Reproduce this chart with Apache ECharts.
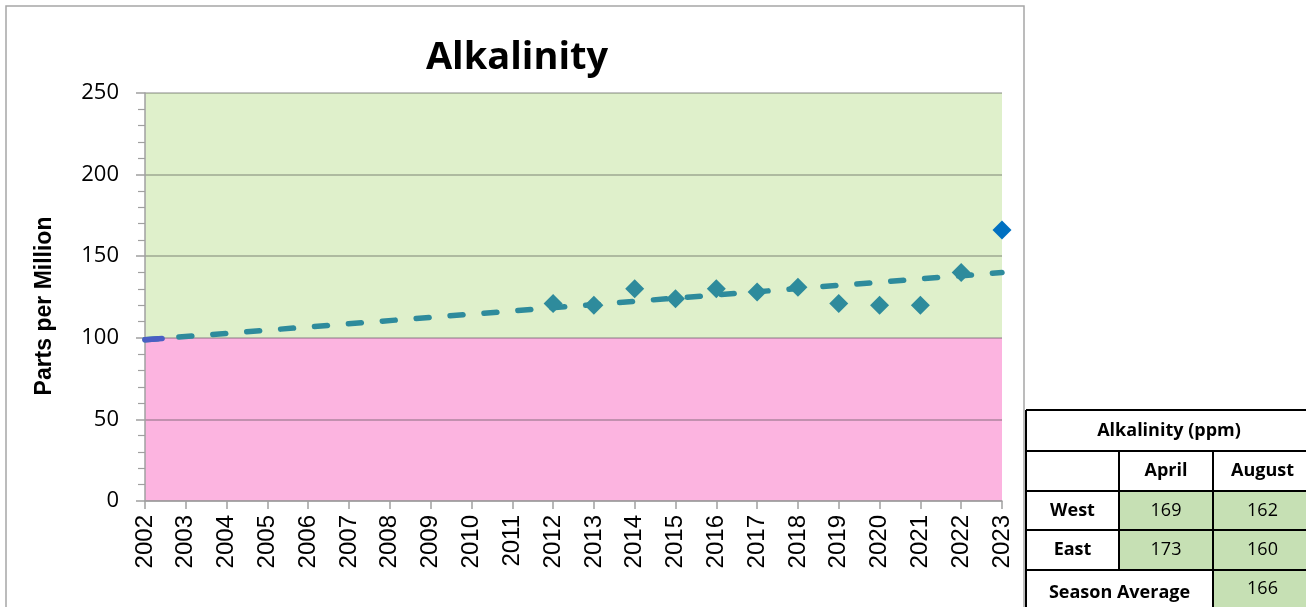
<!DOCTYPE html>
<html>
<head>
<meta charset="utf-8">
<script src="https://cdn.jsdelivr.net/npm/echarts@6/dist/echarts.min.js"></script>
<style>
html,body{margin:0;padding:0;background:#fff;}
#chart{width:1306px;height:607px;}
</style>
</head>
<body>
<div id="chart"></div>
<script>
// ---- data ----
const years = [2012, 2013, 2014, 2015, 2016, 2017, 2018, 2019, 2020, 2021, 2022];
const alkalinity = [121, 120, 130, 124, 130, 128, 131, 121, 120, 120, 140];
const latestYear = [2023];
const latestValue = [166];
const trendYears = [2002, 2023];
const trendValues = [98.8, 140.0];
const blueTrendYears = [2002, 2002.42];
const blueTrendValues = [98.8, 99.6];
const yTicks = [0, 50, 100, 150, 200, 250];
const bandLow = [0, 100];
const bandHigh = [100, 250];

const tableTitle = 'Alkalinity (ppm)';
const tableCols = ['April', 'August'];
const tableRows = ['West', 'East'];
const aprilValues = [169, 173];
const augustValues = [162, 160];
const seasonLabel = 'Season Average';
const seasonAverage = [166];

const teal = '#2e8b9c';
const blue = '#0070c0';

const chart = echarts.init(document.getElementById('chart'));

// table graphics
const tx = [1026, 1119, 1213, 1312];
const ty = [410, 451, 491, 530, 570, 612];
const green = '#c6e0b4';
const g = [];
g.push({type:'rect', shape:{x:6, y:6, width:1018, height:700}, style:{fill:'none', stroke:'#a6a6a6', lineWidth:1.5}, z:0});
g.push({type:'rect', shape:{x:tx[0], y:ty[0], width:tx[3]-tx[0], height:ty[5]-ty[0]}, style:{fill:'#fff', stroke:null}, z:10});
// green cells
for (let r = 0; r < 2; r++) {
  for (let c = 1; c <= 2; c++) {
    g.push({type:'rect', shape:{x:tx[c], y:ty[2+r], width:tx[c+1]-tx[c], height:ty[3+r]-ty[2+r]}, style:{fill:green}, z:11});
  }
}
g.push({type:'rect', shape:{x:tx[2], y:ty[4], width:tx[3]-tx[2], height:ty[5]-ty[4]}, style:{fill:green}, z:11});
const lines = [];
ty.slice(0,5).forEach(y => lines.push([tx[0], y, tx[3], y]));
lines.push([tx[0], ty[0], tx[0], ty[5]]);
lines.push([tx[1], ty[1], tx[1], ty[4]]);
lines.push([tx[2], ty[1], tx[2], ty[5]]);
lines.forEach(l => g.push({type:'line', shape:{x1:l[0], y1:l[1], x2:l[2], y2:l[3]}, style:{stroke:'#000', lineWidth:2}, z:12}));
function txt(s, x, y, bold) {
  g.push({type:'text', x:x, y:y, z:13, style:{text:String(s), x:0, y:0, fill:'#000',
    font:(bold ? 'bold ' : '') + '18px "Open Sans"', textAlign:'center', textVerticalAlign:'middle', align:'center', verticalAlign:'middle'}});
}
txt(tableTitle, (tx[0]+tx[3])/2, 431, true);
tableCols.forEach((c, i) => txt(c, (tx[1+i]+tx[2+i])/2, 471, true));
tableRows.forEach((r, i) => {
  txt(r, (tx[0]+tx[1])/2, (ty[2+i]+ty[3+i])/2, true);
  txt(aprilValues[i], (tx[1]+tx[2])/2, (ty[2+i]+ty[3+i])/2, false);
  txt(augustValues[i], (tx[2]+tx[3])/2, (ty[2+i]+ty[3+i])/2, false);
});
txt(seasonLabel, (tx[0]+tx[2])/2, 593, true);
txt(seasonAverage[0], (tx[2]+tx[3])/2, 589, false);

chart.setOption({
  animation: false,
  backgroundColor: '#fff',
  title: {
    text: 'Alkalinity', left: 512, top: 34, textAlign: 'center',
    textStyle: {fontFamily: 'Open Sans', fontWeight: 'bold', fontSize: 38, color: '#000'}
  },
  grid: {left: 145, right: 304, top: 93, bottom: 106, containLabel: false},
  xAxis: {
    type: 'value', min: 2002, max: 2023, interval: 1, z: 2,
    axisLine: {show: true, lineStyle: {color: '#a0a0a0', width: 1.5}},
    axisTick: {show: true, length: 8, lineStyle: {color: '#a0a0a0', width: 1.5}},
    axisLabel: {rotate: 90, margin: 14, fontFamily: 'Liberation Sans', fontSize: 24, color: '#000',
      formatter: v => String(v)},
    splitLine: {show: false}
  },
  yAxis: {
    type: 'value', min: yTicks[0], max: yTicks[yTicks.length-1], interval: 50, z: 2,
    name: 'Parts per Million', nameLocation: 'middle', nameGap: 89,
    nameTextStyle: {fontFamily: 'Liberation Sans', fontWeight: 'bold', fontSize: 23, color: '#000',
      padding: [0, 18, 0, 0]},
    axisLine: {show: true, lineStyle: {color: '#a0a0a0', width: 1.5}},
    axisTick: {show: true, length: 9, lineStyle: {color: '#a0a0a0', width: 1.5}},
    minorTick: {show: true, splitNumber: 5, length: 7, lineStyle: {color: '#a0a0a0', width: 1.2}},
    axisLabel: {margin: 26, fontFamily: 'Open Sans', fontSize: 22, color: '#000'},
    splitLine: {show: true, lineStyle: {color: 'rgba(70,70,70,0.42)', width: 1.5}}
  },
  graphic: g,
  series: [
    {
      type: 'line', data: [], silent: true, z: 1,
      markArea: {silent: true, z: 1, data: [
        [{xAxis: 2002, yAxis: bandLow[0], itemStyle: {color: '#fcb4e0'}}, {xAxis: 2023, yAxis: bandLow[1]}],
        [{xAxis: 2002, yAxis: bandHigh[0], itemStyle: {color: '#dff0cb'}}, {xAxis: 2023, yAxis: bandHigh[1]}]
      ]}
    },
    {
      type: 'line', z: 4, symbol: 'none', silent: true,
      data: trendYears.map((y, i) => [y, trendValues[i]]),
      lineStyle: {color: teal, width: 5.5, type: [13, 21], cap: 'round'}
    },
    {
      type: 'line', z: 4, symbol: 'none', silent: true,
      data: blueTrendYears.map((y, i) => [y, blueTrendValues[i]]),
      lineStyle: {color: '#4a5fc4', width: 5.5, cap: 'round'}
    },
    {
      type: 'scatter', z: 5, symbol: 'diamond', symbolSize: 19,
      data: years.map((y, i) => [y, alkalinity[i]]),
      itemStyle: {color: teal, opacity: 1}
    },
    {
      type: 'scatter', z: 6, symbol: 'diamond', symbolSize: 19, clip: false,
      data: latestYear.map((y, i) => [y, latestValue[i]]),
      itemStyle: {color: blue, opacity: 1}
    }
  ]
});
</script>
</body>
</html>
